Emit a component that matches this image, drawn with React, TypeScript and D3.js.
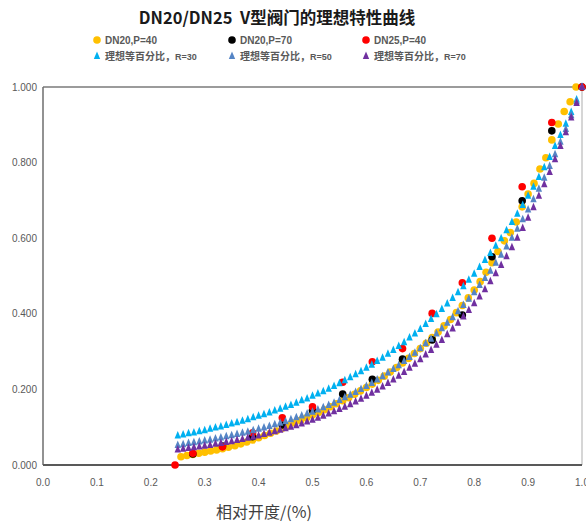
import React from 'react';
import * as d3 from 'd3';

const W = 586;
const H = 524;

const title = 'DN20/DN25  V型阀门的理想特性曲线';
const xTitle = '相对开度/(%)';
const xTicks = [0, 0.1, 0.2, 0.3, 0.4, 0.5, 0.6, 0.7, 0.8, 0.9, 1.0];
const yTicks = [0, 0.2, 0.4, 0.6, 0.8, 1.0];

// ideal equal-percentage curves
const idealX = [
  0.25, 0.26, 0.27, 0.28, 0.29, 0.3, 0.31, 0.32, 0.33, 0.34, 0.35, 0.36, 0.37, 0.38, 0.39,
  0.4, 0.41, 0.42, 0.43, 0.44, 0.45, 0.46, 0.47, 0.48, 0.49, 0.5, 0.51, 0.52, 0.53, 0.54,
  0.55, 0.56, 0.57, 0.58, 0.59, 0.6, 0.61, 0.62, 0.63, 0.64, 0.65, 0.66, 0.67, 0.68, 0.69,
  0.7, 0.71, 0.72, 0.73, 0.74, 0.75, 0.76, 0.77, 0.78, 0.79, 0.8, 0.81, 0.82, 0.83, 0.84,
  0.85, 0.86, 0.87, 0.88, 0.89, 0.9, 0.91, 0.92, 0.93, 0.94, 0.95, 0.96, 0.97, 0.98, 0.99, 1.0,
];
const idealR30 = [
  0.078, 0.081, 0.084, 0.086, 0.089, 0.092, 0.096, 0.099, 0.102, 0.106, 0.11, 0.113, 0.117, 0.121, 0.126,
  0.13, 0.134, 0.139, 0.144, 0.149, 0.154, 0.159, 0.165, 0.171, 0.176, 0.183, 0.189, 0.195, 0.202, 0.209,
  0.216, 0.224, 0.232, 0.24, 0.248, 0.257, 0.265, 0.275, 0.284, 0.294, 0.304, 0.315, 0.325, 0.337, 0.348,
  0.36, 0.373, 0.386, 0.399, 0.413, 0.427, 0.442, 0.457, 0.473, 0.49, 0.506, 0.524, 0.542, 0.561, 0.58,
  0.6, 0.621, 0.643, 0.665, 0.688, 0.712, 0.736, 0.762, 0.788, 0.815, 0.844, 0.873, 0.903, 0.934, 0.967, 1.0,
];
const idealR50 = [
  0.053, 0.055, 0.058, 0.06, 0.062, 0.065, 0.067, 0.07, 0.073, 0.076, 0.079, 0.082, 0.085, 0.088, 0.092,
  0.096, 0.099, 0.103, 0.108, 0.112, 0.116, 0.121, 0.126, 0.131, 0.136, 0.141, 0.147, 0.153, 0.159, 0.165,
  0.172, 0.179, 0.186, 0.193, 0.201, 0.209, 0.217, 0.226, 0.235, 0.245, 0.254, 0.264, 0.275, 0.286, 0.297,
  0.309, 0.322, 0.334, 0.348, 0.362, 0.376, 0.391, 0.407, 0.423, 0.44, 0.457, 0.476, 0.495, 0.514, 0.535,
  0.556, 0.578, 0.601, 0.625, 0.65, 0.676, 0.703, 0.731, 0.76, 0.791, 0.822, 0.855, 0.889, 0.925, 0.962, 1.0,
];
const idealR70 = [
  0.041, 0.043, 0.045, 0.047, 0.049, 0.051, 0.053, 0.056, 0.058, 0.061, 0.063, 0.066, 0.069, 0.072, 0.075,
  0.078, 0.082, 0.085, 0.089, 0.093, 0.097, 0.101, 0.105, 0.11, 0.115, 0.12, 0.125, 0.13, 0.136, 0.142,
  0.148, 0.154, 0.161, 0.168, 0.175, 0.183, 0.191, 0.199, 0.208, 0.217, 0.226, 0.236, 0.246, 0.257, 0.268,
  0.28, 0.292, 0.304, 0.318, 0.331, 0.346, 0.361, 0.376, 0.393, 0.41, 0.428, 0.446, 0.465, 0.486, 0.507,
  0.529, 0.552, 0.576, 0.601, 0.627, 0.654, 0.682, 0.712, 0.743, 0.775, 0.809, 0.844, 0.88, 0.919, 0.958, 1.0,
];

// measured: DN20, P=40 (dense)
const dn20p40X = [
  0.256, 0.267, 0.278, 0.289, 0.3, 0.311, 0.322, 0.333, 0.344, 0.356, 0.367, 0.378, 0.389, 0.4,
  0.411, 0.422, 0.433, 0.444, 0.456, 0.467, 0.478, 0.489, 0.5, 0.511, 0.522, 0.533, 0.544, 0.556,
  0.567, 0.578, 0.589, 0.6, 0.611, 0.622, 0.633, 0.644, 0.656, 0.667, 0.678, 0.689, 0.7, 0.711,
  0.722, 0.733, 0.744, 0.756, 0.767, 0.778, 0.789, 0.8, 0.811, 0.822, 0.833, 0.844, 0.856, 0.867,
  0.878, 0.889, 0.9, 0.911, 0.922, 0.933, 0.944, 0.956, 0.967, 0.978, 0.989,
];
const dn20p40Y = [
  0.022, 0.025, 0.028, 0.031, 0.034, 0.037, 0.04, 0.043, 0.047, 0.051, 0.056, 0.061, 0.066, 0.072,
  0.078, 0.084, 0.09, 0.097, 0.104, 0.111, 0.118, 0.125, 0.132, 0.139, 0.146, 0.154, 0.162, 0.17,
  0.178, 0.187, 0.196, 0.205, 0.214, 0.224, 0.235, 0.246, 0.258, 0.27, 0.282, 0.295, 0.308, 0.322,
  0.337, 0.352, 0.368, 0.385, 0.403, 0.422, 0.442, 0.463, 0.485, 0.51, 0.535, 0.565, 0.593, 0.615,
  0.643, 0.683, 0.717, 0.745, 0.783, 0.813, 0.86, 0.902, 0.935, 0.961, 1.0,
];

// measured: DN20, P=70
const dn20p70X = [0.278, 0.333, 0.389, 0.444, 0.5, 0.556, 0.611, 0.667, 0.722, 0.778, 0.833, 0.889, 0.944, 1.0];
const dn20p70Y = [0.029, 0.05, 0.075, 0.106, 0.145, 0.188, 0.227, 0.28, 0.331, 0.397, 0.551, 0.699, 0.884, 1.0];

// measured: DN25, P=40
const dn25p40X = [0.245, 0.278, 0.333, 0.389, 0.444, 0.5, 0.556, 0.611, 0.667, 0.722, 0.778, 0.833, 0.889, 0.944, 1.0];
const dn25p40Y = [0, 0.031, 0.048, 0.085, 0.125, 0.154, 0.219, 0.273, 0.308, 0.401, 0.482, 0.6, 0.736, 0.906, 1.0];

const circleSeries = [
  { name: 'DN20,P=40', color: '#FFC000', xs: dn20p40X, ys: dn20p40Y },
  { name: 'DN20,P=70', color: '#000000', xs: dn20p70X, ys: dn20p70Y },
  { name: 'DN25,P=40', color: '#FF0000', xs: dn25p40X, ys: dn25p40Y },
];
const triSeries = [
  { name: '理想等百分比，', tag: 'R=30', color: '#00B0F0', xs: idealX, ys: idealR30 },
  { name: '理想等百分比，', tag: 'R=50', color: '#5585C5', xs: idealX, ys: idealR50 },
  { name: '理想等百分比，', tag: 'R=70', color: '#7030A0', xs: idealX, ys: idealR70 },
];

const m = { left: 43, right: 582, top: 87, bottom: 465 };
const CN = '"Noto Sans CJK SC", "Noto Sans", sans-serif';
const NUM = '"Liberation Sans Narrow", "Liberation Sans", Arial, sans-serif';

const tri = (cx: number, cy: number, w = 6.4, h = 7.5) =>
  `M${cx},${cy - h * 0.6}L${cx + w / 2},${cy + h * 0.4}L${cx - w / 2},${cy + h * 0.4}Z`;

const App: React.FC = () => {
  const x = d3.scaleLinear().domain([0, 1]).range([m.left, m.right]);
  const y = d3.scaleLinear().domain([0, 1]).range([m.bottom, m.top]);

  const legendCols = [97, 232, 366];
  const legendRows = [40, 56];

  return (
    <div style={{ position: 'fixed', left: 0, top: 0, width: W, height: H, background: '#fff' }}>
      <svg width={W} height={H} style={{ display: 'block' }}>
        <rect width={W} height={H} fill="#fff" />
        <text
          x={277}
          y={24}
          textAnchor="middle"
          fontFamily={CN}
          fontWeight={700}
          fontSize={16.5}
          fill="#1a1a1a"
          style={{ whiteSpace: 'pre' }}
        >
          {title}
        </text>

        {/* legend */}
        {circleSeries.map((s, i) => (
          <g key={s.name}>
            <circle cx={legendCols[i]} cy={legendRows[0]} r={3.8} fill={s.color} />
            <text x={legendCols[i] + 8} y={legendRows[0] + 3.5} fontFamily={NUM} fontSize={10} fontWeight={600} fill="#595959">
              {s.name}
            </text>
          </g>
        ))}
        {triSeries.map((s, i) => (
          <g key={s.tag}>
            <path d={tri(legendCols[i], legendRows[1])} fill={s.color} />
            <text x={legendCols[i] + 8} y={legendRows[1] + 3.5} fontFamily={CN} fontSize={10} fontWeight={600} fill="#595959">
              {s.name}
              <tspan fontFamily={NUM} fontSize={9}>{s.tag}</tspan>
            </text>
          </g>
        ))}

        {/* frame */}
        <line x1={m.left} x2={m.right} y1={m.top} y2={m.top} stroke="#7a7a7a" strokeWidth={1.3} />
        <line x1={m.right} x2={m.right} y1={m.top} y2={m.bottom} stroke="#c8c8c8" strokeWidth={1.5} />
        <line x1={m.left} x2={m.left} y1={m.top} y2={m.bottom} stroke="#6e6e6e" strokeWidth={1.5} />
        <line x1={m.left} x2={m.right} y1={m.bottom} y2={m.bottom} stroke="#595959" strokeWidth={2.2} />

        {/* axis labels */}
        {yTicks.map((t) => (
          <text key={t} x={37} y={y(t) + 3.5} textAnchor="end" fontFamily={NUM} fontSize={10} fill="#595959">
            {d3.format('.3f')(t)}
          </text>
        ))}
        {xTicks.map((t) => (
          <text key={t} x={x(t)} y={486} textAnchor="middle" fontFamily={NUM} fontSize={10} fill="#595959">
            {d3.format('.1f')(t)}
          </text>
        ))}
        <text x={264} y={518} textAnchor="middle" fontFamily={CN} fontSize={16} fill="#404040">
          {xTitle}
        </text>

        {/* circle series first, triangles drawn over them */}
        {circleSeries.map((s) => (
          <g key={s.name}>
            {s.xs.map((v, i) => (
              <circle key={i} cx={x(v)} cy={y(s.ys[i])} r={3.8} fill={s.color} />
            ))}
          </g>
        ))}
        {triSeries.map((s) => (
          <g key={s.tag}>
            {s.xs.map((v, i) => (
              <path key={i} d={tri(x(v), y(s.ys[i]))} fill={s.color} />
            ))}
          </g>
        ))}
      </svg>
    </div>
  );
};

export default App;
